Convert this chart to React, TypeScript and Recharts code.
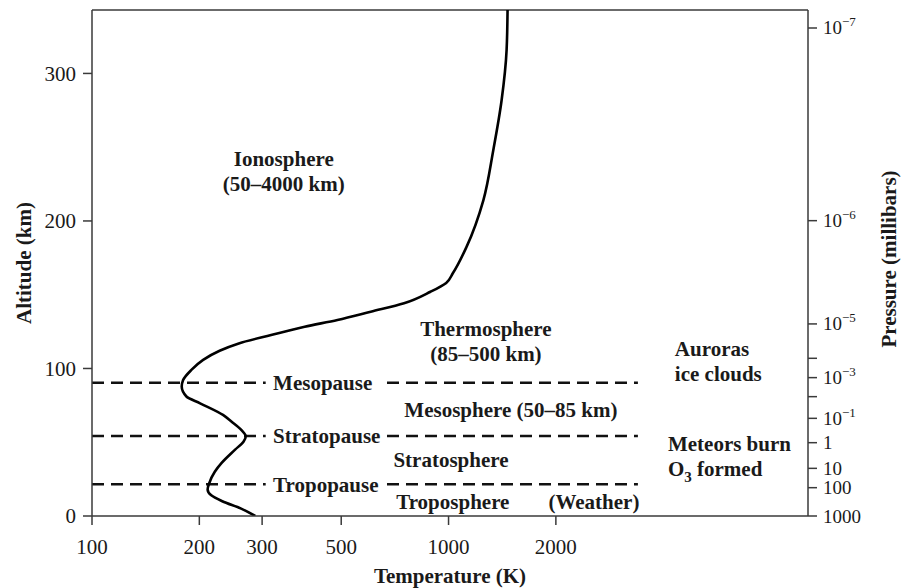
import React from 'react'
import {
  ComposedChart,
  Line,
  XAxis,
  YAxis,
  ReferenceLine,
  ReferenceDot,
  Label
} from 'recharts'

// temperature profile (altitude km -> temperature K)
const altitude = [
  0, 5, 10, 14, 18, 22, 30, 36, 45, 50.4, 54, 58, 64, 68.5, 76.4, 81, 87.7, 92,
  99, 105.8, 112, 117, 122.7, 128.3, 132.9, 138.5, 144.2, 152, 158, 164.7,
  182.6, 214, 248, 282, 316, 343
]
const temperature = [
  287, 262, 232, 216, 211, 213, 221, 231, 252, 266, 270, 263, 246, 233, 201, 184,
  178.5, 180, 190, 205, 228, 258, 318, 395, 488, 605, 750, 890, 985, 1029, 1124,
  1252, 1335, 1409, 1455, 1464
]

const tempTicks = [100, 200, 300, 500, 1000, 2000]
const altTicks = [0, 100, 200, 300]

// right axis: pressure marks at the altitude where they sit
const pressureAlt = [0, 19.2, 32.3, 49.7, 66.2, 80.9, 93.8, 106.9, 130.2, 200.2, 330.8]
const pressureLabel = ['1000', '100', '10', '1', '10^−1', '', '10^−3', '', '10^−5', '10^−6', '10^−7']

// boundaries
const pauseName = ['Mesopause', 'Stratopause', 'Tropopause']
const pauseAlt = [90.4, 54.2, 21.5]

// text notes: lines, anchor point (K, km)
const noteLines = [
  ['Ionosphere', '(50–4000 km)'],
  ['Thermosphere', '(85–500 km)'],
  ['Mesosphere (50–85 km)'],
  ['Stratosphere'],
  ['Troposphere'],
  ['(Weather)'],
  ['Auroras', 'ice clouds'],
  ['Meteors burn', 'O₃ formed']
]
const noteTemp = [345, 1273, 1496, 1016, 1028, 2557, 4313, 4124]
const noteAlt = [234, 118.6, 71.9, 38, 9.5, 9.5, 104.7, 40.3]

const data = altitude.map((a, i) => ({ t: temperature[i], alt: a }))

const FONT = '"Liberation Serif", "Times New Roman", serif'
const INK = '#1a1a1a'
const AXIS = '#3a3a3a'
const T_MIN = 100
const T_MAX = 10190
const A_MAX = 343

// dash runs either side of the boundary names
const dashLeftEnd = 307
const dashRightStart = 672
const dashRightEnd = 3397
const pauseTextT = 322

function withSub(s: string) {
  const k = s.indexOf('₃')
  if (k < 0) return s
  return (
    <>
      {s.slice(0, k)}
      <tspan dy={6} fontSize={15}>3</tspan>
      <tspan dy={-6}>{s.slice(k + 1)}</tspan>
    </>
  )
}

function Note({ viewBox, lines, anchor }: any) {
  const gap = 25
  const x = viewBox.x
  const top = viewBox.y - ((lines.length - 1) * gap) / 2
  return (
    <text
      fontFamily={FONT}
      fontSize={21}
      fontWeight="bold"
      fill={INK}
      textAnchor={anchor}
    >
      {lines.map((ln: string, k: number) => (
        <tspan key={k} x={x} y={top + k * gap} dy="0.35em">
          {withSub(ln)}
        </tspan>
      ))}
    </text>
  )
}

function PressureTick(props: any) {
  const { x, y, payload } = props
  const i = pressureAlt.indexOf(payload.value)
  const label = pressureLabel[i] ?? ''
  const [base, exp] = label.split('^')
  return (
    <text x={x} y={y} dy={6.5} fontFamily={FONT} fontSize={19} fill={INK} textAnchor="start">
      {base}
      {exp && (
        <tspan dy={-8} fontSize={13}>
          {exp}
        </tspan>
      )}
    </text>
  )
}

const titleStyle = {
  fontFamily: FONT,
  fontSize: 21,
  fontWeight: 'bold' as const,
  fill: INK
}

export default function App() {
  return (
    <div
      style={{
        position: 'absolute',
        left: 0,
        top: 0,
        width: 903,
        height: 588,
        background: '#fff'
      }}
    >
      <ComposedChart
        width={903}
        height={588}
        data={data}
        margin={{ top: 10, right: 35, bottom: 22, left: 32 }}
      >
        <XAxis
          dataKey="t"
          type="number"
          scale="log"
          domain={[T_MIN, T_MAX]}
          allowDataOverflow
          ticks={tempTicks}
          interval={0}
          height={50}
          tickSize={9}
          tickMargin={14}
          stroke={AXIS}
          strokeWidth={1.5}
          tick={{ fontFamily: FONT, fontSize: 21, fill: INK }}
          label={
            <Label
              content={() => (
                <text x={450} y={576} textAnchor="middle" dominantBaseline="central" {...titleStyle}>
                  Temperature (K)
                </text>
              )}
            />
          }
        />
        <YAxis
          yAxisId="left"
          type="number"
          domain={[0, A_MAX]}
          allowDataOverflow
          ticks={altTicks}
          interval={0}
          width={60}
          tickSize={9}
          tickMargin={7}
          stroke={AXIS}
          strokeWidth={1.5}
          tick={{ fontFamily: FONT, fontSize: 21, fill: INK }}
          label={
            <Label
              content={() => (
                <text
                  x={24}
                  y={263}
                  textAnchor="middle"
                  dominantBaseline="central"
                  transform="rotate(-90 24 263)"
                  {...titleStyle}
                >
                  Altitude (km)
                </text>
              )}
            />
          }
        />
        <YAxis
          yAxisId="right"
          orientation="right"
          type="number"
          domain={[0, A_MAX]}
          allowDataOverflow
          ticks={pressureAlt}
          interval={0}
          width={60}
          tickSize={9}
          tickMargin={6}
          stroke={AXIS}
          strokeWidth={1.5}
          tick={<PressureTick />}
          label={
            <Label
              content={() => (
                <text
                  x={889}
                  y={259}
                  textAnchor="middle"
                  dominantBaseline="central"
                  transform="rotate(-90 889 259)"
                  {...titleStyle}
                >
                  Pressure (millibars)
                </text>
              )}
            />
          }
        />

        {/* top frame */}
        <ReferenceLine yAxisId="left" y={A_MAX} stroke={AXIS} strokeWidth={1.5} />

        {pauseAlt.map((a, i) => (
          <ReferenceLine
            key={'l' + i}
            yAxisId="left"
            segment={[{ x: T_MIN, y: a }, { x: dashLeftEnd, y: a }]}
            stroke="#111"
            strokeWidth={2.5}
            strokeDasharray="12 7"
          />
        ))}
        {pauseAlt.map((a, i) => (
          <ReferenceLine
            key={'r' + i}
            yAxisId="left"
            segment={[{ x: dashRightStart, y: a }, { x: dashRightEnd, y: a }]}
            stroke="#111"
            strokeWidth={2.5}
            strokeDasharray="12 7"
          />
        ))}
        {pauseAlt.map((a, i) => (
          <ReferenceDot
            key={'p' + i}
            yAxisId="left"
            x={pauseTextT}
            y={a}
            r={0}
            fill="none"
            stroke="none"
            label={<Label content={(p: any) => <Note {...p} lines={[pauseName[i]]} anchor="start" />} />}
          />
        ))}
        {noteLines.map((lines, i) => (
          <ReferenceDot
            key={'n' + i}
            yAxisId="left"
            x={noteTemp[i]}
            y={noteAlt[i]}
            r={0}
            fill="none"
            stroke="none"
            label={
              <Label
                content={(p: any) => (
                  <Note {...p} lines={lines} anchor={i >= 6 ? 'start' : 'middle'} />
                )}
              />
            }
          />
        ))}

        <Line
          yAxisId="left"
          dataKey="alt"
          type="monotoneY"
          stroke="#000"
          strokeWidth={2.6}
          dot={false}
          activeDot={false}
          isAnimationActive={false}
        />
      </ComposedChart>
    </div>
  )
}
